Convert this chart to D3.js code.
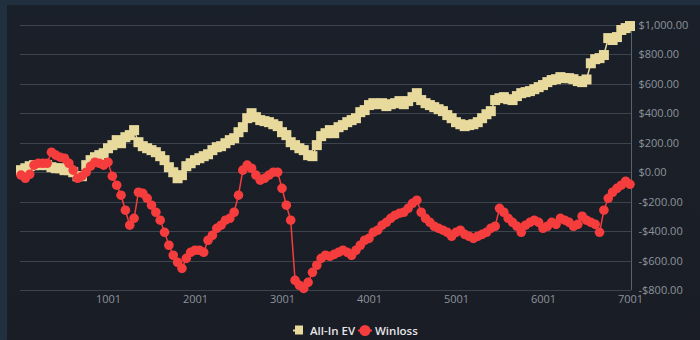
<!DOCTYPE html>
<html><head><meta charset="utf-8">
<script src="https://cdn.jsdelivr.net/npm/d3@7"></script>
<style>
html,body{margin:0;padding:0;background:#21303f;}
svg{display:block;}
</style></head>
<body>
<svg id="chart" width="700" height="340"></svg>
<script>
// hands sampled every 50 hands from 1 to 7001
const hands = d3.range(1, 7002, 50);
const allInEV = [14,27,41,48,48,54,48,34,27,27,14,14,0,-27,-27,48,82,102,116,129,
163,184,218,197,238,252,286,204,177,163,150,136,109,82,34,0,-41,-20,41,61,
82,95,109,122,150,170,177,197,218,231,272,306,367,401,374,354,347,340,326,313,
272,252,204,184,163,150,116,109,184,245,265,286,265,306,320,340,354,367,408,422,
456,469,462,469,449,462,469,483,462,483,510,537,490,469,456,442,428,415,388,367,
340,326,313,320,326,340,367,394,415,490,503,510,496,490,517,537,544,551,564,578,
592,612,626,632,646,639,639,632,619,612,630,740,768,775,796,911,898,918,966,979,993];
const winloss = [-20,-41,-14,48,61,61,61,136,116,102,95,61,14,-41,-27,0,41,68,61,48,
68,-27,-88,-156,-258,-360,-313,-136,-143,-177,-224,-272,-326,-408,-496,-564,-612,-653,-585,-544,
-530,-530,-544,-462,-428,-381,-360,-326,-313,-272,-156,14,48,27,-20,-54,-41,-20,0,0,
-109,-224,-326,-734,-768,-789,-748,-680,-632,-585,-564,-571,-558,-544,-530,-544,-564,-530,-496,-462,
-449,-408,-394,-360,-340,-313,-292,-279,-272,-245,-211,-190,-272,-313,-340,-367,-381,-394,-408,-435,
-408,-394,-422,-435,-449,-435,-422,-408,-381,-367,-245,-272,-313,-340,-367,-408,-360,-340,-326,-340,
-381,-367,-340,-354,-313,-326,-340,-367,-354,-299,-326,-340,-354,-408,-258,-177,-136,-109,-88,-61,-82];
const yTicks = [-800,-600,-400,-200,0,200,400,600,800,1000];
const xTicks = [1001,2001,3001,4001,5001,6001,7001];
const seriesNames = ["All-In EV","Winloss"];
const colors = {ev:"#e8d99c", wl:"#f53d3d"};

const svg = d3.select("#chart");
const defs = svg.append("defs");
const grad = defs.append("linearGradient").attr("id","bg").attr("x1",0).attr("y1",0).attr("x2",0).attr("y2",1);
grad.append("stop").attr("offset","0%").attr("stop-color","#1a2029");
grad.append("stop").attr("offset","100%").attr("stop-color","#1a1d26");
svg.append("rect").attr("x",7).attr("y",5).attr("width",693).attr("height",335).attr("fill","url(#bg)");

const x = d3.scaleLinear().domain([1,7001]).range([21,630]);
const y = d3.scaleLinear().domain([-800,1000]).range([290,25]);

// grid
svg.append("g").selectAll("line").data(yTicks).join("line")
  .attr("x1",20).attr("x2",631)
  .attr("y1",d=>Math.round(y(d))+0.5).attr("y2",d=>Math.round(y(d))+0.5)
  .attr("stroke","#3d444e").attr("stroke-width",1);

// right axis
const yAxis = d3.axisRight(y).tickValues(yTicks).tickSize(0).tickPadding(7)
  .tickFormat(d => (d<0?"-":"") + "$" + d3.format(",.2f")(Math.abs(d)));
const gy = svg.append("g").attr("transform","translate(631.5,0)").call(yAxis);
gy.select(".domain").attr("stroke","#5a616b").attr("d","M0,25V290");
gy.selectAll("text").attr("fill","#8d939b").style("font-family","'Open Sans', sans-serif").style("font-size","11px");

// bottom axis
const xAxis = d3.axisBottom(x).tickValues(xTicks).tickSize(0).tickPadding(5).tickFormat(d3.format("d"));
const gx = svg.append("g").attr("transform","translate(0,290.5)").call(xAxis);
gx.select(".domain").remove();
gx.selectAll("text").attr("fill","#8d939b").style("font-family","'Open Sans', sans-serif").style("font-size","11px");

const evData = hands.map((h,i)=>({h, v:allInEV[i]}));
const wlData = hands.map((h,i)=>({h, v:winloss[i]}));
const line = d3.line().x(d=>x(d.h)).y(d=>y(d.v));

// EV series
svg.append("path").datum(evData).attr("d",line).attr("fill","none").attr("stroke",colors.ev).attr("stroke-width",1.5);
svg.append("g").selectAll("rect").data(evData).join("rect")
  .attr("x",d=>x(d.h)-5).attr("y",d=>y(d.v)-5).attr("width",10).attr("height",10)
  .attr("fill",colors.ev);

// Winloss series
svg.append("path").datum(wlData).attr("d",line).attr("fill","none").attr("stroke",colors.wl).attr("stroke-width",1.5);
svg.append("g").selectAll("circle").data(wlData).join("circle")
  .attr("cx",d=>x(d.h)).attr("cy",d=>y(d.v)).attr("r",4.8)
  .attr("fill",colors.wl);

// legend
const lg = svg.append("g").style("font-family","'Open Sans', sans-serif").style("font-size","11.5px").style("font-weight","600");
lg.append("line").attr("x1",293).attr("x2",303).attr("y1",330.5).attr("y2",330.5).attr("stroke",colors.ev).attr("stroke-width",2);
lg.append("rect").attr("x",295).attr("y",325.5).attr("width",8).attr("height",9).attr("fill",colors.ev);
lg.append("text").attr("x",310).attr("y",334.5).attr("fill","#e6e6e6").text(seriesNames[0]);
lg.append("line").attr("x1",358).attr("x2",372).attr("y1",330.5).attr("y2",330.5).attr("stroke",colors.wl).attr("stroke-width",2);
lg.append("circle").attr("cx",365).attr("cy",330.5).attr("r",5.5).attr("fill",colors.wl);
lg.append("text").attr("x",375).attr("y",334.5).attr("fill","#e6e6e6").text(seriesNames[1]);
</script>
</body></html>
